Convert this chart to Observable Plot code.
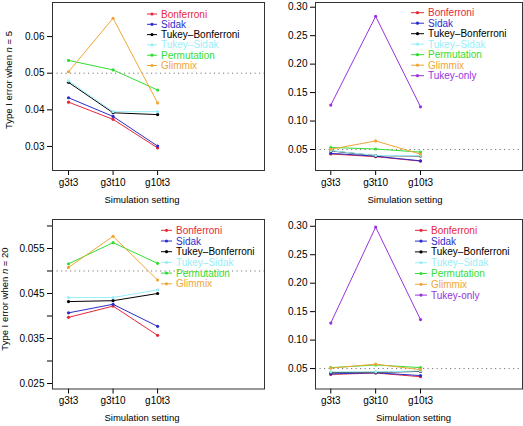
<!DOCTYPE html>
<html>
<head>
<meta charset="utf-8">
<script src="https://cdn.jsdelivr.net/npm/d3@7"></script>
<script src="https://cdn.jsdelivr.net/npm/@observablehq/plot@0.6"></script>
<style>
  html, body { margin: 0; padding: 0; background: #fff; }
  #wrap { position: relative; width: 523px; height: 426px; background: #fff; font-family: "Liberation Sans", Arial, sans-serif; }
  #wrap svg { position: absolute; }
</style>
</head>
<body>
<div id="wrap"></div>
<script>
// ---------- data ----------
const settings = ["g3t3", "g3t10", "g10t3"];
const methods = ["Bonferroni", "Sidak", "Tukey\u2013Bonferroni", "Tukey\u2013Sidak", "Permutation", "Glimmix", "Tukey-only"];
const colors = ["#e8283a", "#2d2dcc", "#000000", "#99eef8", "#33dd33", "#f0a636", "#9933dd"];

// n = 5
const bonferroni_n5 = [0.0421, 0.0374, 0.0296];
const sidak_n5 = [0.0433, 0.0382, 0.0301];
const tukeyBonferroni_n5 = [0.0475, 0.0392, 0.0387];
const tukeySidak_n5 = [0.0479, 0.0395, 0.0395];
const permutation_n5 = [0.0535, 0.0509, 0.0454];
const glimmix_n5 = [0.0504, 0.0650, 0.0419];
const tukeyOnly_n5 = [0.128, 0.284, 0.125];

// n = 20
const bonferroni_n20 = [0.0397, 0.0422, 0.0357];
const sidak_n20 = [0.0407, 0.0426, 0.0377];
const tukeyBonferroni_n20 = [0.0432, 0.0434, 0.0450];
const tukeySidak_n20 = [0.0441, 0.0441, 0.0458];
const permutation_n20 = [0.0516, 0.0563, 0.0517];
const glimmix_n20 = [0.0508, 0.0577, 0.0480];
const tukeyOnly_n20 = [0.130, 0.2986, 0.136];

const nominal = 0.05;

// ---------- build tables ----------
function table(seriesList) {
  const rows = [];
  seriesList.forEach((vals, k) => {
    vals.forEach((v, i) => rows.push({method: methods[k], xi: i + 1, value: v}));
  });
  return rows;
}
const n5Series = [bonferroni_n5, sidak_n5, tukeyBonferroni_n5, tukeySidak_n5, permutation_n5, glimmix_n5];
const n20Series = [bonferroni_n20, sidak_n20, tukeyBonferroni_n20, tukeySidak_n20, permutation_n20, glimmix_n20];
const n5Left = table(n5Series);
const n5Right = table([...n5Series, tukeyOnly_n5]);
const n20Left = table(n20Series);
const n20Right = table([...n20Series, tukeyOnly_n20]);

const wrap = document.getElementById("wrap");

function panel(o) {
  const chart = Plot.plot({
    width: o.width, height: 213,
    marginLeft: o.ml, marginRight: 1, marginTop: o.mt, marginBottom: o.mb,
    style: {fontFamily: "'Liberation Sans', Arial, sans-serif", fontSize: "10px", background: "transparent", overflow: "visible", color: "#000"},
    x: {type: "linear", domain: o.xDomain, ticks: [1, 2, 3], tickFormat: i => settings[i - 1], tickSize: 5, tickPadding: 3, label: null},
    y: {domain: o.yDomain, ticks: o.yTicks, tickFormat: o.yFmt, tickSize: 5, tickPadding: 3, label: null},
    color: {domain: methods, range: colors},
    marks: [
      Plot.ruleY([nominal], {stroke: "#777", strokeDasharray: "1.2,3.3", strokeWidth: 1}),
      Plot.line(o.data, {x: "xi", y: "value", z: "method", stroke: "method", strokeWidth: 1}),
      Plot.dot(o.data, {x: "xi", y: "value", fill: "method", r: 1.6}),
      Plot.frame({stroke: "#333", strokeWidth: 1})
    ]
  });
  chart.style.left = o.left + "px";
  chart.style.top = o.top + "px";
  wrap.appendChild(chart);
  const svg = d3.select(chart);

  // x axis title
  svg.append("text").attr("x", o.xlx).attr("y", o.xly).attr("dy", "0.35em")
    .attr("text-anchor", "middle").attr("font-size", 9.5).attr("fill", "#000")
    .text("Simulation setting");

  // y axis title
  if (o.ylab) {
    const t = svg.append("text")
      .attr("transform", `translate(${o.ylx},${o.yly}) rotate(-90)`)
      .attr("dy", "0.35em").attr("text-anchor", "middle").attr("font-size", 9.5).attr("fill", "#000");
    t.append("tspan").text("Type I error when ");
    t.append("tspan").attr("font-style", "italic").text("n");
    t.append("tspan").text(" = " + o.ylab);
  }

  // legend
  const used = Array.from(new Set(o.data.map(d => d.method)));
  const g = svg.append("g").attr("text-anchor", "start");
  used.forEach((m, i) => {
    const c = colors[methods.indexOf(m)];
    const y = o.legY + i * o.legStep;
    g.append("line").attr("x1", o.legX).attr("x2", o.legX + o.legLen).attr("y1", y).attr("y2", y)
      .attr("stroke", c).attr("stroke-width", 1);
    g.append("circle").attr("cx", o.legX + o.legLen / 2).attr("cy", y).attr("r", 1.6).attr("fill", c);
    g.append("text").attr("x", o.legX + o.legLen + 4).attr("y", y).attr("dy", "0.35em")
      .attr("text-anchor", "start").attr("font-size", 10).attr("fill", c).text(m);
  });
}

const f2 = d3.format(".2f");
const f3 = d3.format(".3f");

// top-left
panel({
  data: n5Left, left: 0, top: 0, width: 265, ml: 52, mt: 2, mb: 43,
  xDomain: [0.64, 5.4], yDomain: [0.02344, 0.0693],
  yTicks: [0.03, 0.04, 0.05, 0.06], yFmt: f2,
  xlx: 142, xly: 200, ylab: "5", ylx: 9, yly: 80,
  legX: 147, legLen: 10, legY: 14, legStep: 10.3
});
// top-right
panel({
  data: n5Right, left: 262, top: 0, width: 261, ml: 53, mt: 2, mb: 43,
  xDomain: [0.659, 5.274], yDomain: [0.0131, 0.3083],
  yTicks: [0.05, 0.10, 0.15, 0.20, 0.25, 0.30], yFmt: f2,
  xlx: 143, xly: 200, ylab: null,
  legX: 149, legLen: 13, legY: 12.7, legStep: 10.5
});
// bottom-left
panel({
  data: n20Left, left: 0, top: 213, width: 265, ml: 52, mt: 6, mb: 37.5,
  xDomain: [0.64, 5.4], yDomain: [0.02378, 0.06144],
  yTicks: d3.range(0.025, 0.0601, 0.005),
  yFmt: d => [0.025, 0.035, 0.045, 0.055].some(v => Math.abs(v - d) < 1e-6) ? f3(d) : "",
  xlx: 142, xly: 205, ylab: "20", ylx: 5, yly: 86,
  legX: 161, legLen: 11, legY: 17.3, legStep: 10.7
});
// bottom-right
panel({
  data: n20Right, left: 262, top: 213, width: 261, ml: 53, mt: 6, mb: 37.5,
  xDomain: [0.659, 5.274], yDomain: [0.0141, 0.3119],
  yTicks: [0.05, 0.10, 0.15, 0.20, 0.25, 0.30], yFmt: f2,
  xlx: 151.5, xly: 205, ylab: null,
  legX: 153, legLen: 12, legY: 17.3, legStep: 10.8
});
</script>
</body>
</html>
